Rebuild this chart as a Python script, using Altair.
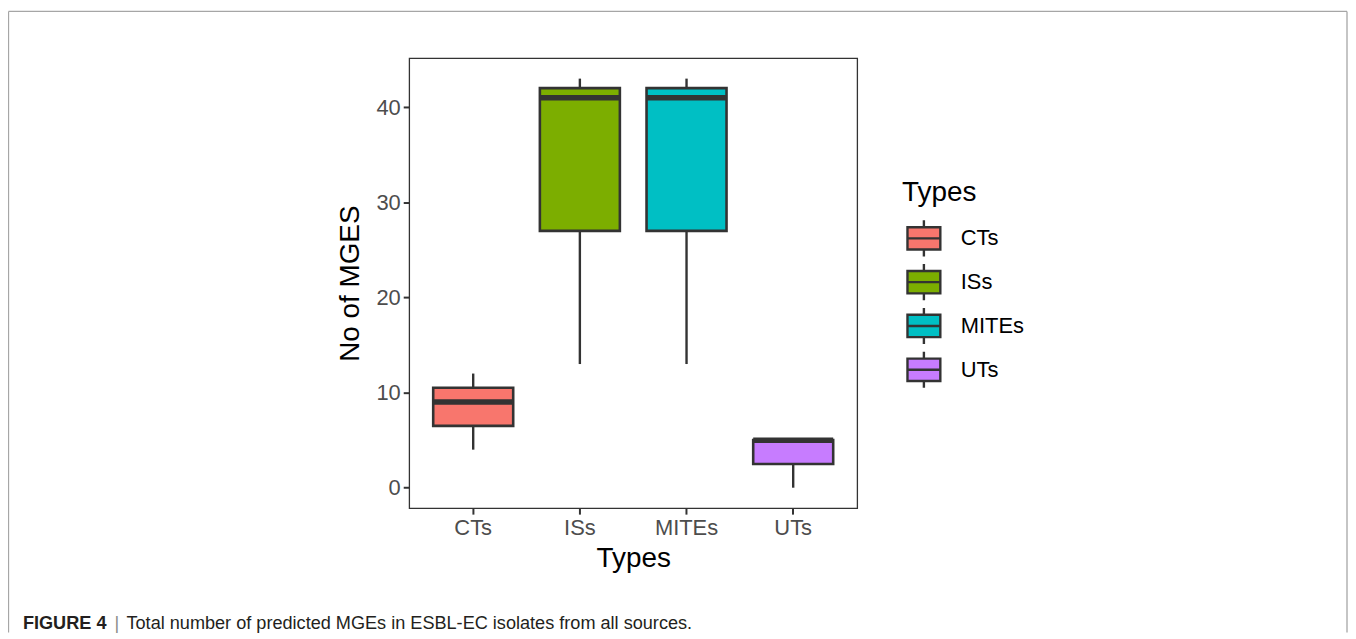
import altair as alt
import pandas as pd

# ---- data ----
types = ["CTs", "ISs", "MITEs", "UTs"]
lower = [4, 13, 13, 0]
q1 = [6.5, 27, 27, 2.5]
median = [9, 41, 41, 5]
q3 = [10.5, 42, 42, 5]
upper = [12, 43, 43, 5]
colors = ["#F8766D", "#7CAE00", "#00BFC4", "#C77CFF"]
y_ticks = [0, 10, 20, 30, 40]
caption_bold = ["FIGURE 4"]
caption_sep = ["|"]
caption_text = ["Total number of predicted MGEs in ESBL-EC isolates from all sources."]

df = pd.DataFrame(dict(Types=types, lower=lower, q1=q1, median=median, q3=q3, upper=upper))

FONT = "Liberation Sans"
W, H = 450, 452
PL, PT = 403, 49
TOTAL_W, TOTAL_H = 1346, 626
step = W / 4.2
DARK = "#333333"

xscale = alt.Scale(domain=types, paddingInner=0.25, paddingOuter=0.225)
yscale = alt.Scale(domain=[-2.15, 45.15], nice=False, zero=False)
xaxis = alt.Axis(title="Types", labelAngle=0, titlePadding=7)
yaxis = alt.Axis(title="No of MGES", values=y_ticks, grid=False, titlePadding=11)

def X():
    return alt.X("Types:N", scale=xscale, sort=types, axis=xaxis)

def Y(field):
    return alt.Y(f"{field}:Q", scale=yscale, axis=yaxis)

base = alt.Chart(df)

w_low = base.mark_rule(color=DARK, strokeWidth=2.4).encode(x=X(), y=Y("lower"), y2="q1:Q")
w_up = base.mark_rule(color=DARK, strokeWidth=2.4).encode(x=X(), y=Y("q3"), y2="upper:Q")

box_path = "M-1,-0.68H1V0.68H-1Z M-1,0H1 M0,-0.68V-1.1 M0,0.68V1.1"

boxes = base.mark_bar(stroke=DARK, strokeWidth=2.6, opacity=1).encode(
    x=X(),
    y=Y("q1"),
    y2="q3:Q",
    fill=alt.Fill(
        "Types:N",
        scale=alt.Scale(domain=types, range=colors),
        legend=alt.Legend(
            title="Types",
            orient="none",
            legendX=495,
            legendY=121,
            symbolType=box_path,
            symbolSize=1089,
            symbolStrokeColor=DARK,
            symbolStrokeWidth=2.4,
            symbolOpacity=1,
            symbolOffset=4,
            labelFontSize=22,
            labelFont=FONT,
            labelColor="black",
            labelOffset=19,
            titleFontSize=28,
            titleFont=FONT,
            titleFontWeight="normal",
            titleColor="black",
            titlePadding=14,
            rowPadding=-2,
        ),
    ),
)

meds = base.mark_tick(color=DARK, thickness=5.5, size=step * 0.75, opacity=1).encode(
    x=X(), y=Y("median")
)

CAP_Y = 573
cap1 = alt.Chart(pd.DataFrame({"t": caption_bold})).mark_text(
    align="left", baseline="alphabetic", fontSize=18.2, fontWeight="bold", color="#231F20", font=FONT
).encode(text="t:N", x=alt.value(-388), y=alt.value(CAP_Y))
cap2 = alt.Chart(pd.DataFrame({"t": caption_sep})).mark_text(
    align="left", baseline="alphabetic", fontSize=18.2, color="#8C8C8C", font=FONT
).encode(text="t:N", x=alt.value(-296), y=alt.value(CAP_Y))
cap3 = alt.Chart(pd.DataFrame({"t": caption_text})).mark_text(
    align="left", baseline="alphabetic", fontSize=18.2, color="#231F20", font=FONT
).encode(text="t:N", x=alt.value(-284), y=alt.value(CAP_Y))

frame_df = pd.DataFrame({"a": [0]})
FR = "#A6A6A6"
FX0, FX1, FY0, FY1 = -402.5, 942, -47, TOTAL_H - PT
top = alt.Chart(frame_df).mark_rule(color=FR, strokeWidth=1.3).encode(
    x=alt.value(FX0), x2=alt.value(FX1), y=alt.value(FY0), y2=alt.value(FY0))
left = alt.Chart(frame_df).mark_rule(color=FR, strokeWidth=1.3).encode(
    x=alt.value(FX0), x2=alt.value(FX0), y=alt.value(FY0), y2=alt.value(FY1))
right = alt.Chart(frame_df).mark_rule(color=FR, strokeWidth=1.3).encode(
    x=alt.value(FX1), x2=alt.value(FX1), y=alt.value(FY0), y2=alt.value(FY1))

chart = alt.layer(w_low, w_up, boxes, meds, cap1, cap2, cap3, top, left, right).properties(
    width=W,
    height=H,
    autosize=alt.AutoSizeParams(type="none"),
    padding={"left": PL, "top": PT, "right": TOTAL_W - PL - W, "bottom": TOTAL_H - PT - H},
).configure_view(
    stroke=DARK, strokeWidth=1.3
).configure_axis(
    domain=False,
    tickColor=DARK,
    tickWidth=2,
    tickSize=6,
    labelFont=FONT,
    labelFontSize=22,
    labelColor="#4D4D4D",
    labelPadding=3,
    titleFont=FONT,
    titleFontSize=28,
    titleFontWeight="normal",
    titleColor="black",
)

chart.save("out.html", embed_options={"renderer": "svg", "actions": False})
